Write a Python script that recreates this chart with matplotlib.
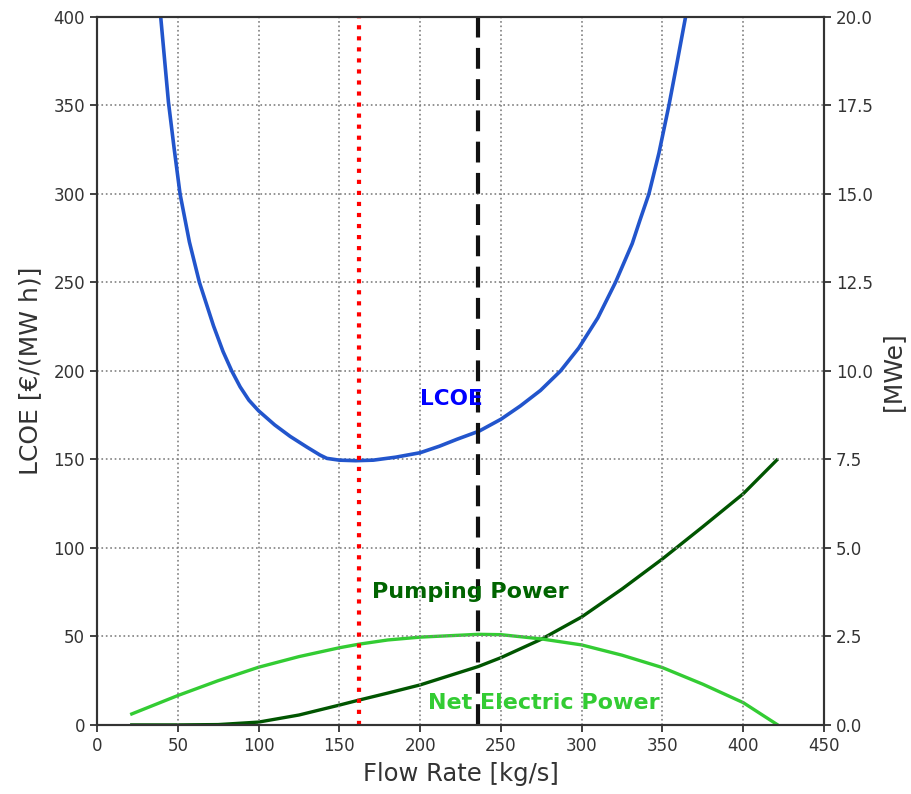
import numpy as np
import matplotlib
matplotlib.use('Agg')
import matplotlib.pyplot as plt

# LCOE curve
lcoe_x = [39.5, 44.2, 47.7, 51.4, 57.2, 63.4, 72.1, 78, 83.4, 88.6, 94, 100, 110, 119.6, 129.9, 138, 142.3,
          150, 160, 171, 185, 200, 212, 222.8, 236.5, 250, 262, 274.5, 286.9, 298.2, 310, 320.9,
          331.3, 336, 341.6, 347.8, 354, 359.2, 364.3]
lcoe_y = [399.2, 352, 326, 300, 272.8, 250, 225.5, 211, 200, 191, 183.5, 177.5, 169.5, 163, 157, 152.5, 150.6,
          149.6, 149.3, 149.6, 151.3, 153.8, 157.5, 161.4, 166, 172.7, 180.2, 189, 200, 213, 230, 250,
          272, 285, 300, 323, 350, 375, 400]

# power curves [MWe]
flow = [21.5, 50, 75, 100, 125, 150, 162, 180, 200, 236, 250, 275, 300, 325, 350, 375, 400, 420.7]
net_power = [0.31, 0.83, 1.25, 1.63, 1.93, 2.18, 2.28, 2.4, 2.48, 2.56, 2.55, 2.43, 2.26, 1.97, 1.62, 1.15, 0.63, 0.02]
pump_power = [0.0, 0.0, 0.01, 0.08, 0.28, 0.56, 0.7, 0.9, 1.13, 1.65, 1.9, 2.42, 3.05, 3.84, 4.69, 5.6, 6.53, 7.48]

opt_lcoe = 162
opt_power = 236

fig = plt.figure(figsize=(9.11, 7.94), dpi=100)
ax = fig.add_axes([0.1065, 0.087, 0.798, 0.8916])
ax2 = ax.twinx()

ax.plot(lcoe_x, lcoe_y, color='#2255cc', lw=2.6, solid_joinstyle='round')
ax.axvline(opt_lcoe, color='red', ls=':', lw=3)
ax.axvline(opt_power, color='#111111', ls=(0, (5, 2.5)), lw=3)

ax2.plot(flow, pump_power, color='#005500', lw=2.4, solid_joinstyle='round')
ax2.plot(flow, net_power, color='#33cc33', lw=2.4, solid_joinstyle='round')

ax.set_xlim(0, 450)
ax.set_ylim(0, 400)
ax2.set_ylim(0, 20)
ax.set_xticks(np.arange(0, 451, 50))
ax.set_yticks(np.arange(0, 401, 50))
ax2.set_yticks(np.arange(0, 20.1, 2.5))
ax2.set_yticklabels(['%.1f' % v for v in np.arange(0, 20.1, 2.5)])

ax.grid(True, color='gray', ls=':', lw=1.2)
ax.set_zorder(ax2.get_zorder() + 1)
ax.patch.set_visible(False)

for a in (ax, ax2):
    a.tick_params(labelsize=12, width=1.3, length=5, color='#333333', labelcolor='#333333')
    for s in a.spines.values():
        s.set_linewidth(1.5)
        s.set_color('#333333')

ax.set_xlabel('Flow Rate [kg/s]', fontsize=17.5, color='#333333', labelpad=5)
ax.set_ylabel('LCOE [€/(MW h)]', fontsize=18, color='#333333', labelpad=8)
ax2.set_ylabel('[MWe]', fontsize=18, color='#333333', labelpad=6)

ax.text(200, 184, 'LCOE', color='blue', fontsize=15.5, fontweight='bold', va='center')
ax.text(170, 75, 'Pumping Power', color='#006400', fontsize=16, fontweight='bold', va='center')
ax.text(205, 12.5, 'Net Electric Power', color='#33cc33', fontsize=16, fontweight='bold', va='center')

fig.savefig('out.png', dpi=100)
